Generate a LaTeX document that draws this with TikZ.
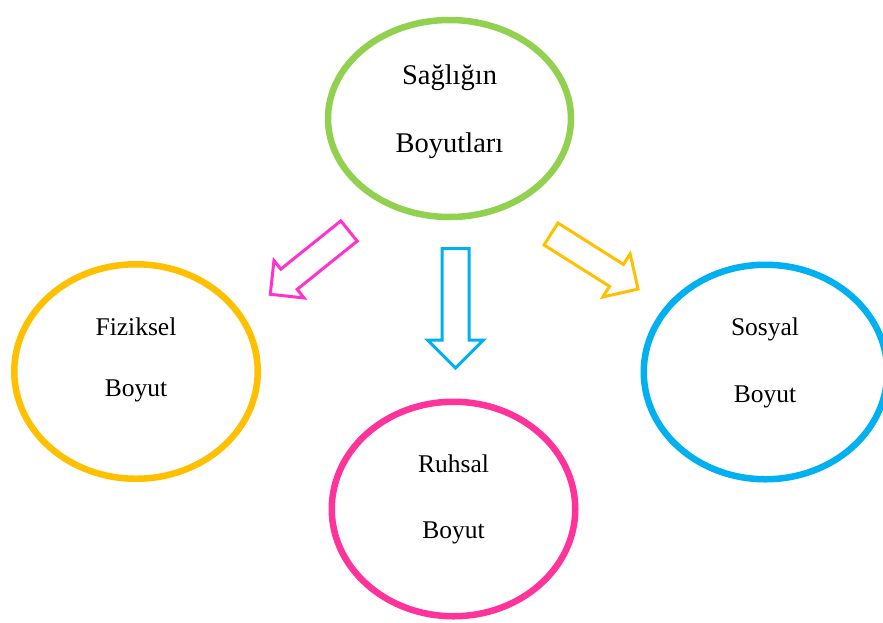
\documentclass[tikz,border=0pt]{standalone}
\usepackage{fontspec}
\setmainfont{Liberation Serif}
\usepackage{xcolor}
\usetikzlibrary{shapes.geometric,shapes.arrows}
\definecolor{leaf}{HTML}{92D050}
\definecolor{amber}{HTML}{FFC000}
\definecolor{rose}{HTML}{FF3399}
\definecolor{magentaarr}{HTML}{FF33CC}
\definecolor{sky}{HTML}{00B0F0}

\begin{document}
\begin{tikzpicture}[
  x=1pt, y=-1pt,
  ring/.style={ellipse, draw, line width=6.5pt, inner sep=0pt,
               minimum width=243.5pt, minimum height=214.5pt},
  txt/.style={anchor=base, inner sep=0pt, font=\fontsize{25.5}{30}\selectfont},
  bigtxt/.style={txt, font=\fontsize{28.5}{34}\selectfont},
  blockarr/.style={shape=single arrow, draw, line width=3pt, fill=white,
               inner xsep=0pt, outer sep=0pt, anchor=tail,
               single arrow head indent=0pt}
]
\useasboundingbox (0,0) rectangle (883,622);
\clip (0,0) rectangle (883,622);

% ellipses
\node[ring, draw=leaf, minimum width=243pt, minimum height=197pt] (top) at (449.5,118.5) {};
\node[ring, draw=amber] (fiz) at (136,371.5) {};
\node[ring, draw=rose]  (ruh) at (453.5,509) {};
\node[ring, draw=sky]   (sos) at (765.5,372) {};

% texts
\node[bigtxt] (topA) at (449.5,84)  {Sağlığın};
\node[bigtxt] (topB) at (449.5,152) {Boyutları};
\node[txt] (fizA) at (136,335) {Fiziksel};
\node[txt] (fizB) at (136,396) {Boyut};
\node[txt] (ruhA) at (453.5,472) {Ruhsal};
\node[txt] (ruhB) at (453.5,538) {Boyut};
\node[txt] (sosA) at (765,335) {Sosyal};
\node[txt] (sosB) at (765,402) {Boyut};

% block arrows
\node[blockarr, draw=magentaarr, rotate=-141.2, inner ysep=11.5pt,
      single arrow head extend=11pt, minimum height=101pt] (arrL) at (349,231) {};
\node[blockarr, draw=sky, rotate=-90, inner ysep=12pt,
      single arrow head extend=14.5pt, minimum height=119.5pt] (arrD) at (455.5,248.5) {};
\node[blockarr, draw=amber, rotate=-32.3, inner ysep=11.5pt,
      single arrow head extend=12.5pt, minimum height=103pt] (arrR) at (551,234) {};
\end{tikzpicture}
\end{document}
